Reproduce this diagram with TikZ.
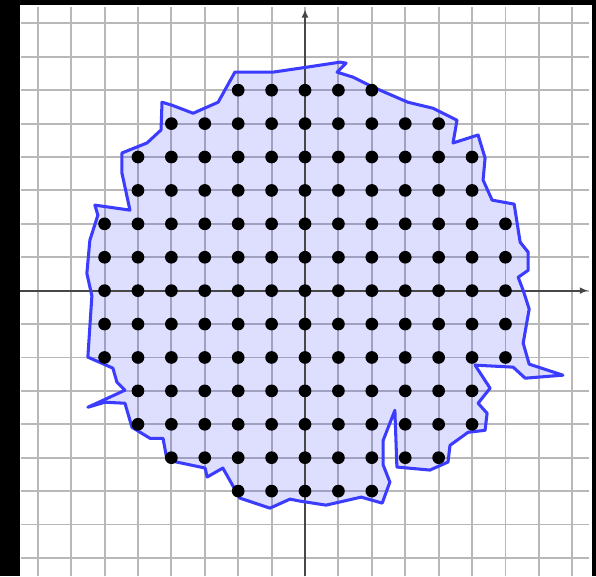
\documentclass[tikz,border=0pt]{standalone}
\usepackage{tikz}
\usetikzlibrary{arrows.meta}
\definecolor{edge}{RGB}{60,60,255}

\begin{document}
\begin{tikzpicture}[
  gridline/.style={draw=black!28, line width=1.6pt},
  axis/.style={draw=black!72, line width=1.5pt, -{Latex[length=7pt,width=6pt]}},
  region/.style={fill=blue, fill opacity=0.13},
  border/.style={draw=edge, line width=2.6pt, line join=round},
  lattice/.style={fill=black}
]
\useasboundingbox (-9.13,-8.55) rectangle (8.71,8.70);
\fill[black] (-9.13,-8.55) rectangle (8.71,8.70);
\fill[white] (-8.53,-8.55) rectangle (8.59,8.55);
\foreach \k in {-8,...,8} {
  \draw[gridline] (-8.5,\k) -- (8.5,\k);
  \draw[gridline] (\k,-8.55) -- (\k,8.5);
}
\path[region] (-2.10,6.54) -- (-0.96,6.54) -- (0.06,6.69) -- (1.05,6.84) -- (1.23,6.81) -- (0.96,6.54)
  -- (1.44,6.39) -- (2.04,6.09) -- (3.08,5.64) -- (3.83,5.46) -- (4.55,5.10) -- (4.43,4.42)
  -- (5.18,4.66) -- (5.39,3.97) -- (5.33,3.31) -- (5.60,2.71) -- (6.26,2.59) -- (6.44,1.45)
  -- (6.68,1.15) -- (6.68,0.61) -- (6.38,0.40) -- (6.53,0.01) -- (6.71,-0.55) -- (6.53,-1.57)
  -- (6.71,-2.20) -- (7.72,-2.53) -- (6.59,-2.62) -- (6.23,-2.29) -- (5.09,-2.23) -- (5.54,-2.92)
  -- (5.18,-3.37) -- (5.45,-3.67) -- (5.39,-4.18) -- (4.88,-4.24) -- (4.34,-4.63) -- (4.28,-5.13)
  -- (3.74,-5.37) -- (2.75,-5.28) -- (2.69,-3.58) -- (2.34,-4.48) -- (2.34,-5.22) -- (2.54,-5.73)
  -- (2.31,-6.36) -- (1.68,-6.18) -- (0.63,-6.42) -- (-0.15,-6.30) -- (-0.45,-6.24) -- (-1.05,-6.51)
  -- (-1.95,-6.21) -- (-2.46,-5.31) -- (-2.93,-5.58) -- (-2.99,-5.31) -- (-4.13,-5.07) -- (-4.25,-4.42)
  -- (-4.64,-4.42) -- (-5.18,-4.09) -- (-5.39,-3.37) -- (-5.99,-3.34) -- (-6.50,-3.49) -- (-5.39,-2.98)
  -- (-5.63,-2.74) -- (-5.75,-2.32) -- (-6.50,-1.99) -- (-6.38,-0.16) -- (-6.53,0.52) -- (-6.44,1.51)
  -- (-6.20,2.26) -- (-6.29,2.56) -- (-5.24,2.41) -- (-5.48,3.52) -- (-5.48,4.12) -- (-4.73,4.42)
  -- (-4.31,4.81) -- (-4.28,5.64) -- (-3.98,5.55) -- (-3.35,5.31) -- (-2.60,5.64) -- cycle;
\draw[axis] (-8.53,0) -- (8.47,0);
\draw[axis] (0,-8.55) -- (0,8.42);
\draw[border] (-2.10,6.54) -- (-0.96,6.54) -- (0.06,6.69) -- (1.05,6.84) -- (1.23,6.81) -- (0.96,6.54)
  -- (1.44,6.39) -- (2.04,6.09) -- (3.08,5.64) -- (3.83,5.46) -- (4.55,5.10) -- (4.43,4.42)
  -- (5.18,4.66) -- (5.39,3.97) -- (5.33,3.31) -- (5.60,2.71) -- (6.26,2.59) -- (6.44,1.45)
  -- (6.68,1.15) -- (6.68,0.61) -- (6.38,0.40) -- (6.53,0.01) -- (6.71,-0.55) -- (6.53,-1.57)
  -- (6.71,-2.20) -- (7.72,-2.53) -- (6.59,-2.62) -- (6.23,-2.29) -- (5.09,-2.23) -- (5.54,-2.92)
  -- (5.18,-3.37) -- (5.45,-3.67) -- (5.39,-4.18) -- (4.88,-4.24) -- (4.34,-4.63) -- (4.28,-5.13)
  -- (3.74,-5.37) -- (2.75,-5.28) -- (2.69,-3.58) -- (2.34,-4.48) -- (2.34,-5.22) -- (2.54,-5.73)
  -- (2.31,-6.36) -- (1.68,-6.18) -- (0.63,-6.42) -- (-0.15,-6.30) -- (-0.45,-6.24) -- (-1.05,-6.51)
  -- (-1.95,-6.21) -- (-2.46,-5.31) -- (-2.93,-5.58) -- (-2.99,-5.31) -- (-4.13,-5.07) -- (-4.25,-4.42)
  -- (-4.64,-4.42) -- (-5.18,-4.09) -- (-5.39,-3.37) -- (-5.99,-3.34) -- (-6.50,-3.49) -- (-5.39,-2.98)
  -- (-5.63,-2.74) -- (-5.75,-2.32) -- (-6.50,-1.99) -- (-6.38,-0.16) -- (-6.53,0.52) -- (-6.44,1.51)
  -- (-6.20,2.26) -- (-6.29,2.56) -- (-5.24,2.41) -- (-5.48,3.52) -- (-5.48,4.12) -- (-4.73,4.42)
  -- (-4.31,4.81) -- (-4.28,5.64) -- (-3.98,5.55) -- (-3.35,5.31) -- (-2.60,5.64) -- cycle;
\foreach \y/\a/\b in {6/-2/2,5/-4/4,4/-5/5,3/-5/5,2/-6/6,1/-6/6,0/-6/6,-1/-6/6,-2/-6/6,-3/-5/5,-4/-5/5,-5/-4/4,-6/-2/2}
  \foreach \x in {\a,...,\b}
    \fill[lattice] (\x,\y) circle (0.19);
\end{tikzpicture}
\end{document}
